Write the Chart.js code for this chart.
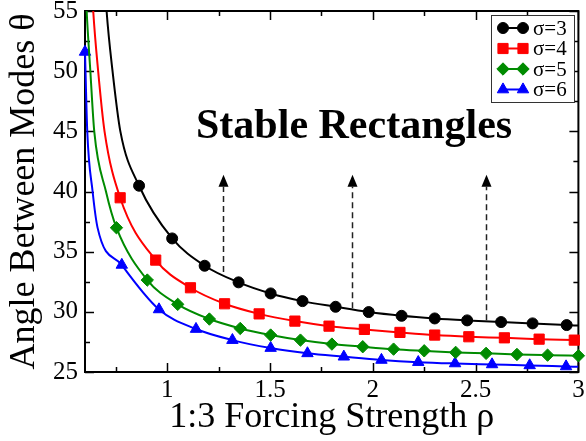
<!DOCTYPE html>
<html>
<head>
<meta charset="utf-8">
<script src="https://cdn.jsdelivr.net/npm/chart.js@4.4.1/dist/chart.umd.min.js"></script>
<style>
  html, body { margin: 0; padding: 0; background: #fff; }
  canvas { display: block; }
</style>
</head>
<body>
<canvas id="chart" width="586" height="441"></canvas>
<script>
// Angle between modes θ versus 1:3 forcing strength ρ, one curve per σ.

const seriesLabels = ['σ=3', 'σ=4', 'σ=5', 'σ=6'];

// σ = 3 : marked samples, plus unmarked points where the curve runs on
const s3MarkX = [0.863, 1.024, 1.182, 1.347, 1.503, 1.658, 1.819, 1.980, 2.140, 2.301, 2.459, 2.624, 2.777, 2.943];
const s3MarkY = [40.48, 36.10, 33.83, 32.45, 31.53, 30.89, 30.42, 29.98, 29.67, 29.45, 29.29, 29.15, 29.04, 28.90];
const s3CurveX = [0.698, 0.705, 0.734, 0.772, 3.0];
const s3CurveY = [57.0, 55.0, 50.0, 45.0, 28.86];

// σ = 4
const s4MarkX = [0.771, 0.944, 1.113, 1.279, 1.447, 1.621, 1.787, 1.959, 2.132, 2.301, 2.467, 2.640, 2.809, 2.980];
const s4MarkY = [39.48, 34.30, 32.00, 30.67, 29.83, 29.23, 28.81, 28.54, 28.29, 28.07, 27.93, 27.84, 27.73, 27.65];
const s4CurveX = [0.634, 0.640, 0.664, 0.695, 3.0];
const s4CurveY = [57.0, 55.0, 50.0, 45.0, 27.64];

// σ = 5
const s5MarkX = [0.753, 0.903, 1.051, 1.205, 1.355, 1.503, 1.648, 1.801, 1.951, 2.101, 2.250, 2.403, 2.551, 2.701, 2.850, 3.0];
const s5MarkY = [36.99, 32.64, 30.62, 29.40, 28.62, 28.07, 27.65, 27.32, 27.10, 26.90, 26.76, 26.63, 26.55, 26.46, 26.40, 26.35];
const s5CurveX = [0.603, 0.608, 0.626, 0.645, 0.702];
const s5CurveY = [57.0, 55.0, 50.0, 45.0, 40.0];

// σ = 6
const s6MarkX = [0.600, 0.779, 0.960, 1.140, 1.317, 1.503, 1.682, 1.859, 2.042, 2.221, 2.400, 2.580, 2.763, 2.940];
const s6MarkY = [51.60, 33.90, 30.20, 28.57, 27.65, 26.99, 26.55, 26.27, 26.00, 25.82, 25.71, 25.63, 25.55, 25.46];
const s6CurveX = [0.611, 0.637, 0.661, 3.0];
const s6CurveY = [45.0, 40.0, 37.0, 25.43];

// axis ticks
const xMajorTicks = [1, 1.5, 2, 2.5, 3];
const xMinorTicks = [0.75, 1.25, 1.75, 2.25, 2.75];
const yMajorTicks = [25, 30, 35, 40, 45, 50, 55];
const yMinorTicks = [27.5, 32.5, 37.5, 42.5, 47.5, 52.5];

// dashed arrows pointing into the stable region
const arrowX = [1.27, 1.90, 2.55];
const arrowFromY = [33.3, 30.3, 29.3];
const arrowToY = 41.4;

const regionLabel = 'Stable Rectangles';
const regionLabelX = 1.14;
const regionLabelY = 44.45;

const SERIF = "'Liberation Serif', serif";
Chart.defaults.font.family = SERIF;
Chart.defaults.color = '#000';

const colors = ['#000000', '#ff0000', 'rgb(0,139,0)', '#0000ff'];
const styles = ['circle', 'rect', 'rectRot', 'triangle'];
const radii = [5.5, 7.2, 6.2, 6.6];

function buildPoints(mx, my, cx, cy) {
  const pts = mx.map((x, i) => ({ x, y: my[i], m: true }))
    .concat(cx.map((x, i) => ({ x, y: cy[i], m: false })));
  pts.sort((a, b) => a.x - b.x);
  return pts;
}

const seriesPoints = [
  buildPoints(s3MarkX, s3MarkY, s3CurveX, s3CurveY),
  buildPoints(s4MarkX, s4MarkY, s4CurveX, s4CurveY),
  buildPoints(s5MarkX, s5MarkY, s5CurveX, s5CurveY),
  buildPoints(s6MarkX, s6MarkY, s6CurveX, s6CurveY)
];

const clips = [
  0,
  { left: 0, top: 0, right: 8, bottom: 0 },
  { left: 0, top: 0, right: 8, bottom: 0 },
  { left: 8, top: 0, right: 0, bottom: 0 }
];

const datasets = seriesPoints.map((pts, i) => ({
  label: seriesLabels[i],
  data: pts.map(p => ({ x: p.x, y: p.y })),
  borderColor: colors[i],
  backgroundColor: colors[i],
  borderWidth: 2,
  pointStyle: styles[i],
  pointRadius: pts.map(p => p.m ? radii[i] : 0),
  pointHoverRadius: 0,
  pointBorderWidth: 1,
  pointBorderColor: colors[i],
  pointBackgroundColor: colors[i],
  cubicInterpolationMode: 'monotone',
  clip: clips[i]
}));

function drawMarker(ctx, style, r, x, y, color) {
  ctx.save();
  ctx.fillStyle = color;
  ctx.strokeStyle = color;
  ctx.lineWidth = 1;
  ctx.beginPath();
  if (style === 'circle') {
    ctx.arc(x, y, r, 0, Math.PI * 2);
  } else if (style === 'rect') {
    const s = r * Math.SQRT1_2;
    ctx.rect(x - s, y - s, 2 * s, 2 * s);
  } else if (style === 'rectRot') {
    ctx.moveTo(x - r, y); ctx.lineTo(x, y - r); ctx.lineTo(x + r, y); ctx.lineTo(x, y + r);
    ctx.closePath();
  } else {
    ctx.moveTo(x, y - r);
    ctx.lineTo(x + r * Math.sin(2 * Math.PI / 3), y - r * Math.cos(2 * Math.PI / 3));
    ctx.lineTo(x + r * Math.sin(4 * Math.PI / 3), y - r * Math.cos(4 * Math.PI / 3));
    ctx.closePath();
  }
  ctx.fill();
  ctx.stroke();
  ctx.restore();
}

const frame = {
  id: 'frame',
  beforeDatasetsDraw(chart) {
    const { ctx, chartArea: a, scales: { x, y } } = chart;
    ctx.save();
    ctx.strokeStyle = '#000';
    ctx.lineWidth = 1.5;
    const tick = (vals, len, horizontal) => {
      vals.forEach(v => {
        ctx.beginPath();
        if (horizontal) {
          const px = Math.round(x.getPixelForValue(v)) + 0.5;
          ctx.moveTo(px, a.bottom); ctx.lineTo(px, a.bottom - len);
          ctx.moveTo(px, a.top); ctx.lineTo(px, a.top + len);
        } else {
          const py = Math.round(y.getPixelForValue(v)) + 0.5;
          ctx.moveTo(a.left, py); ctx.lineTo(a.left + len, py);
          ctx.moveTo(a.right, py); ctx.lineTo(a.right - len, py);
        }
        ctx.stroke();
      });
    };
    tick(xMajorTicks, 9, true);
    tick(xMinorTicks, 5, true);
    tick(yMajorTicks, 9, false);
    tick(yMinorTicks, 5, false);
    ctx.lineWidth = 2;
    ctx.strokeRect(a.left, a.top, a.right - a.left, a.bottom - a.top);
    ctx.restore();
  },
  afterDatasetsDraw(chart) {
    const { ctx, scales: { x, y } } = chart;
    ctx.save();
    // arrows
    ctx.strokeStyle = '#222';
    ctx.fillStyle = '#000';
    ctx.lineWidth = 1.5;
    arrowX.forEach((vx, i) => {
      const px = Math.round(x.getPixelForValue(vx)) + 0.5;
      const y0 = y.getPixelForValue(arrowFromY[i]);
      const tip = y.getPixelForValue(arrowToY);
      const headLen = 12, headHalf = 5;
      ctx.setLineDash([6, 4]);
      ctx.beginPath();
      ctx.moveTo(px, y0);
      ctx.lineTo(px, tip + headLen);
      ctx.stroke();
      ctx.setLineDash([]);
      ctx.beginPath();
      ctx.moveTo(px, tip);
      ctx.lineTo(px + headHalf, tip + headLen);
      ctx.lineTo(px - headHalf, tip + headLen);
      ctx.closePath();
      ctx.fill();
    });
    // region label
    ctx.font = 'bold 42px ' + SERIF;
    ctx.textAlign = 'left';
    ctx.textBaseline = 'alphabetic';
    ctx.fillStyle = '#000';
    ctx.fillText(regionLabel, x.getPixelForValue(regionLabelX), y.getPixelForValue(regionLabelY));
    ctx.restore();
  },
  afterDraw(chart) {
    const { ctx } = chart;
    ctx.save();
    ctx.strokeStyle = '#333';
    ctx.lineWidth = 1;
    ctx.fillStyle = '#fff';
    ctx.fillRect(491.5, 15.5, 83, 87);
    ctx.strokeRect(491.5, 15.5, 83, 87);
    ctx.font = 'normal 21px ' + SERIF;
    ctx.textAlign = 'left';
    ctx.textBaseline = 'middle';
    seriesLabels.forEach((lab, i) => {
      const cy = 28 + i * 20.5;
      ctx.strokeStyle = colors[i];
      ctx.lineWidth = 2;
      ctx.beginPath();
      ctx.moveTo(503, cy); ctx.lineTo(523, cy);
      ctx.stroke();
      drawMarker(ctx, styles[i], radii[i], 503, cy, colors[i]);
      drawMarker(ctx, styles[i], radii[i], 523, cy, colors[i]);
      ctx.fillStyle = '#000';
      ctx.fillText(lab, 533, cy + 1);
    });
    ctx.restore();
  }
};

new Chart(document.getElementById('chart'), {
  type: 'line',
  data: { datasets },
  options: {
    responsive: false,
    devicePixelRatio: 1,
    animation: false,
    events: [],
    layout: { padding: { top: 11, right: 6, left: 0, bottom: 0 } },
    plugins: { legend: { display: false }, tooltip: { enabled: false } },
    scales: {
      x: {
        type: 'linear',
        min: 0.6,
        max: 3,
        grid: { display: false, drawTicks: false },
        border: { display: false },
        afterBuildTicks: s => { s.ticks = xMajorTicks.map(v => ({ value: v })); },
        afterFit: s => { s.height = 69; s.paddingLeft = 0; s.paddingRight = 0; },
        ticks: {
          color: '#000',
          padding: 3,
          maxRotation: 0,
          autoSkip: false,
          font: { family: SERIF, size: 25, weight: 'normal' },
          callback: v => String(v)
        },
        title: {
          display: true,
          text: '1:3 Forcing Strength ρ',
          color: '#000',
          font: { family: SERIF, size: 36, weight: 'normal' },
          padding: { top: 0, bottom: 2 }
        }
      },
      y: {
        type: 'linear',
        min: 25,
        max: 55,
        grid: { display: false, drawTicks: false },
        border: { display: false },
        afterBuildTicks: s => { s.ticks = yMajorTicks.map(v => ({ value: v })); },
        afterFit: s => { s.width = 85; s.paddingTop = 0; s.paddingBottom = 0; },
        ticks: {
          color: '#000',
          padding: 7,
          autoSkip: false,
          font: { family: SERIF, size: 25, weight: 'normal' },
          callback: v => String(v)
        },
        title: {
          display: true,
          text: 'Angle Between Modes θ',
          color: '#000',
          font: { family: SERIF, size: 36, weight: 'normal' },
          padding: { top: 3, bottom: 0 }
        }
      }
    }
  },
  plugins: [frame]
});
</script>
</body>
</html>
